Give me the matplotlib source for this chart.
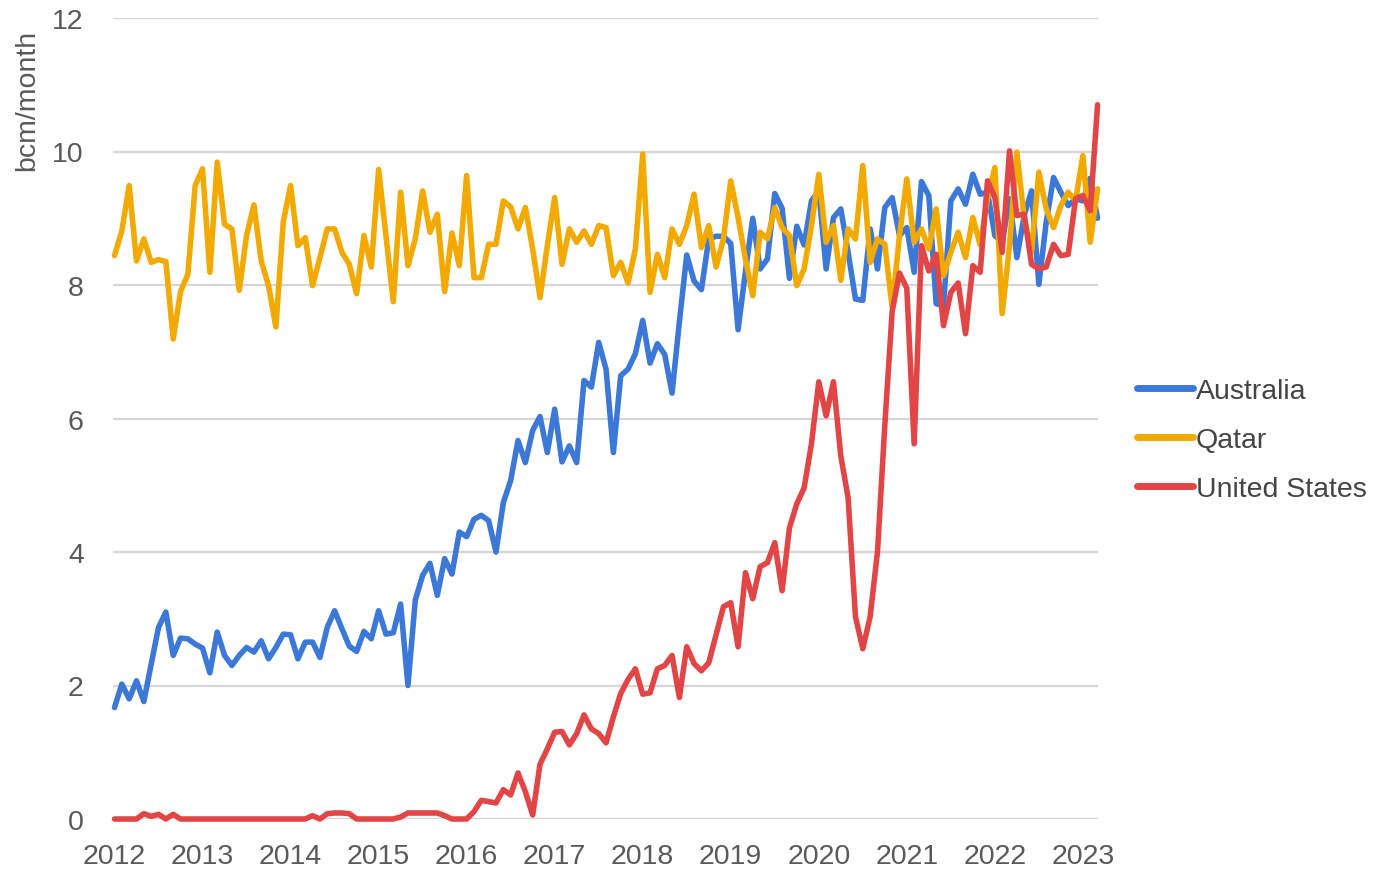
import matplotlib
matplotlib.use("Agg")
import matplotlib.pyplot as plt
import numpy as np

plt.rcParams['font.family'] = ['Liberation Sans', 'DejaVu Sans']

start_year = 2012
years = list(range(2012, 2024))
yticks = [0, 2, 4, 6, 8, 10, 12]
series_names = ["Australia", "Qatar", "United States"]
colors = ["#3c78d8", "#f2a900", "#e14545"]

australia = [1.67, 2.02, 1.80, 2.07, 1.76, 2.32, 2.87, 3.10, 2.45, 2.71, 2.70, 2.62,
             2.56, 2.19, 2.80, 2.45, 2.30, 2.45, 2.57, 2.50, 2.67, 2.40, 2.57, 2.77,
             2.76, 2.40, 2.65, 2.65, 2.42, 2.87, 3.12, 2.85, 2.59, 2.51, 2.81, 2.70,
             3.12, 2.77, 2.79, 3.22, 2.00, 3.28, 3.65, 3.83, 3.35, 3.90, 3.67, 4.30,
             4.23, 4.49, 4.55, 4.47, 4.00, 4.74, 5.07, 5.67, 5.34, 5.82, 6.03, 5.49,
             6.14, 5.35, 5.59, 5.34, 6.57, 6.47, 7.14, 6.74, 5.49, 6.64, 6.74, 6.97,
             7.47, 6.83, 7.12, 6.96, 6.38, 7.45, 8.45, 8.06, 7.93, 8.69, 8.73, 8.73,
             8.62, 7.33, 8.20, 9.00, 8.24, 8.39, 9.37, 9.15, 8.10, 8.88, 8.60, 9.26,
             9.41, 8.24, 9.01, 9.14, 8.49, 7.79, 7.77, 8.84, 8.24, 9.16, 9.31, 8.74,
             8.86, 8.19, 9.55, 9.34, 7.72, 7.69, 9.26, 9.44, 9.21, 9.66, 9.36, 9.39,
             8.74, 8.64, 9.29, 8.41, 9.04, 9.41, 8.01, 8.94, 9.61, 9.39, 9.19, 9.29,
             9.26, 9.60, 9.00]

qatar = [8.44, 8.81, 9.49, 8.36, 8.69, 8.34, 8.38, 8.35, 7.19, 7.90, 8.16, 9.49,
         9.74, 8.19, 9.84, 8.91, 8.84, 7.92, 8.74, 9.20, 8.36, 7.99, 7.37, 8.94,
         9.49, 8.59, 8.71, 7.99, 8.41, 8.84, 8.84, 8.49, 8.31, 7.87, 8.74, 8.27,
         9.73, 8.74, 7.75, 9.39, 8.29, 8.69, 9.41, 8.79, 9.06, 7.90, 8.78, 8.29,
         9.64, 8.11, 8.11, 8.61, 8.61, 9.26, 9.17, 8.84, 9.16, 8.54, 7.81, 8.59,
         9.31, 8.31, 8.84, 8.64, 8.81, 8.61, 8.89, 8.86, 8.14, 8.34, 8.03, 8.54,
         9.96, 7.89, 8.46, 8.11, 8.84, 8.61, 8.89, 9.36, 8.56, 8.89, 8.27, 8.69,
         9.56, 9.01, 8.39, 7.84, 8.79, 8.69, 9.16, 8.86, 8.74, 7.99, 8.24, 8.89,
         9.66, 8.64, 8.89, 8.07, 8.84, 8.69, 9.79, 8.34, 8.69, 8.61, 7.67, 8.74,
         9.59, 8.64, 8.84, 8.54, 9.14, 8.14, 8.49, 8.79, 8.41, 9.01, 8.60, 9.30,
         9.76, 7.57, 8.59, 9.99, 9.00, 8.50, 9.69, 9.14, 8.86, 9.19, 9.39, 9.26,
         9.94, 8.64, 9.44]

united_states = [0.00, 0.00, 0.00, 0.00, 0.08, 0.04, 0.07, 0.00, 0.07, 0.00, 0.00, 0.00,
                 0.00, 0.00, 0.00, 0.00, 0.00, 0.00, 0.00, 0.00, 0.00, 0.00, 0.00, 0.00,
                 0.00, 0.00, 0.00, 0.05, 0.00, 0.08, 0.09, 0.09, 0.08, 0.00, 0.00, 0.00,
                 0.00, 0.00, 0.00, 0.03, 0.09, 0.09, 0.09, 0.09, 0.09, 0.05, 0.00, 0.00,
                 0.00, 0.11, 0.28, 0.26, 0.24, 0.44, 0.36, 0.69, 0.41, 0.06, 0.82, 1.05,
                 1.30, 1.31, 1.11, 1.28, 1.56, 1.35, 1.28, 1.14, 1.53, 1.88, 2.09, 2.25,
                 1.87, 1.89, 2.25, 2.30, 2.45, 1.82, 2.58, 2.33, 2.22, 2.34, 2.76, 3.18,
                 3.24, 2.58, 3.69, 3.30, 3.78, 3.84, 4.14, 3.42, 4.36, 4.72, 4.96, 5.62,
                 6.55, 6.04, 6.55, 5.44, 4.81, 3.03, 2.55, 3.03, 4.00, 5.90, 7.60, 8.18,
                 7.95, 5.62, 8.59, 8.21, 8.46, 7.39, 7.89, 8.03, 7.27, 8.29, 8.19, 9.56,
                 9.31, 8.49, 10.01, 9.04, 9.06, 8.31, 8.24, 8.27, 8.61, 8.44, 8.46, 9.29,
                 9.34, 9.11, 10.70]

W, H = 1377, 870
fig = plt.figure(figsize=(W / 100, H / 100), dpi=100)
left, right, top, bottom = 113, 1098, 19, 820
ax = fig.add_axes([left / W, 1 - bottom / H, (right - left) / W, (bottom - top) / H])

n = len(australia)
x = start_year + np.arange(n) / 12.0

for name, vals, c, z in zip(series_names, [australia, qatar, united_states], colors, [3, 4, 5]):
    ax.plot(x, vals, color=c, lw=4.0, label=name, zorder=z, clip_on=False,
            solid_joinstyle='round', solid_capstyle='round')

ax.set_xlim(start_year - 1.5 / 88.0, x[-1] + 0.005)
ax.set_ylim(0, 12)
ax.set_yticks(yticks)
ax.set_yticklabels([str(v) for v in yticks])
ax.set_xticks(years)
ax.set_xticklabels([str(y) for y in years])
ax.tick_params(axis='both', length=0, labelsize=20.5, labelcolor='#595959')
ax.tick_params(axis='y', pad=21)
ax.tick_params(axis='x', pad=17.5)
for s in ax.spines.values():
    s.set_visible(False)
ax.grid(axis='y', color='#d6d6d6', lw=1.6, zorder=0)
ax.set_axisbelow(True)

fig.text(27 / W, 1 - 30 / H, "bcm/month", rotation=90, ha='center', va='top',
         fontsize=20.5, color='#595959')

leg = ax.legend(loc='center left', bbox_to_anchor=(1137 / W, 1 - 441 / H),
                bbox_transform=fig.transFigure, frameon=False, fontsize=20.5,
                handlelength=1.95, handletextpad=0.12, labelspacing=0.8,
                borderpad=0, borderaxespad=0)
for t in leg.get_texts():
    t.set_color('#444444')
for l in leg.get_lines():
    l.set_linewidth(5)

fig.savefig("out.png", dpi=100)
